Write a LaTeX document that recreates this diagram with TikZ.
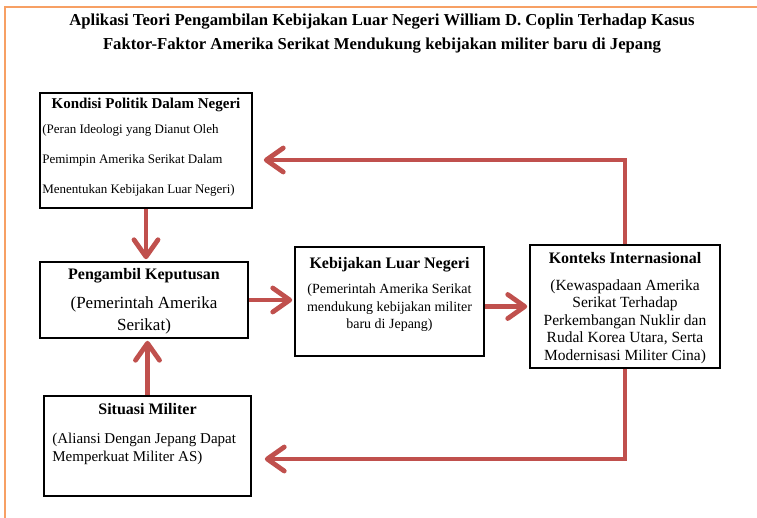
\documentclass[tikz,border=0pt]{standalone}
\usepackage{fontspec}
\setmainfont{Liberation Serif}
\usetikzlibrary{arrows.meta,positioning}
\definecolor{framecol}{RGB}{247,160,100}
\definecolor{arrowcol}{RGB}{192,80,77}

\begin{document}
\begin{tikzpicture}[x=1pt, y=-1pt,
    >={Straight Barb[length=17pt, width=24pt, round]},
    box/.style={rectangle, draw, line width=1.7pt, inner sep=0pt},
    head/.style={font=\fontsize{16}{19}\selectfont\bfseries, inner sep=0pt},
    body/.style={font=\fontsize{14}{17.5}\selectfont, align=center, inner sep=0pt},
    arrow/.style={->, arrowcol, line width=4.8pt},
]
\useasboundingbox (0,0) rectangle (757,517);

% page frame
\draw[framecol, line width=2pt] (5,530) -- (5,7) -- (770,7);

% title
\node[font=\fontsize{16.7}{24}\selectfont\bfseries, align=center] (title) at (382,34)
    {Aplikasi Teori Pengambilan Kebijakan Luar Negeri William D. Coplin Terhadap Kasus\\
     Faktor-Faktor Amerika Serikat Mendukung kebijakan militer baru di Jepang};

% boxes
\node[box, minimum width=212pt, minimum height=115pt] (kondisi) at (146,150.5) {};
\node[box, minimum width=208pt, minimum height=76pt] (pengambil) at (144,300) {};
\node[box, minimum width=207pt, minimum height=100pt] (situasi) at (147.5,446) {};
\node[box, minimum width=189pt, minimum height=109pt] (kebijakan) at (389.5,301.5) {};
\node[box, minimum width=190pt, minimum height=123pt] (konteks) at (625,306.5) {};

% texts
\node[head, font=\fontsize{15}{18}\selectfont\bfseries, below=5.5pt of kondisi.north] (kondisihead) {Kondisi Politik Dalam Negeri};
\node[body, font=\fontsize{13}{30}\selectfont, align=left, below right=32pt and 3pt of kondisi.north west] (kondisibody)
    {(Peran Ideologi yang Dianut Oleh\\Pemimpin Amerika Serikat Dalam\\Menentukan Kebijakan Luar Negeri)};

\node[head, below=7pt of pengambil.north] (pengambilhead) {Pengambil Keputusan};
\node[body, font=\fontsize{17}{22}\selectfont, below=35.5pt of pengambil.north] (pengambilbody)
    {(Pemerintah Amerika\\Serikat)};

\node[head, below=8pt of situasi.north] (situasihead) {Situasi Militer};
\node[body, font=\fontsize{15}{18}\selectfont, align=left, below right=38pt and 9pt of situasi.north west] (situasibody)
    {(Aliansi Dengan Jepang Dapat\\Memperkuat Militer AS)};

\node[head, below=11pt of kebijakan.north] (kebijakanhead) {Kebijakan Luar Negeri};
\node[body, below=37.5pt of kebijakan.north] (kebijakanbody)
    {(Pemerintah Amerika Serikat\\mendukung kebijakan militer\\baru di Jepang)};

\node[head, below=8pt of konteks.north] (konteksshead) {Konteks Internasional};
\node[body, font=\fontsize{15.5}{17.5}\selectfont, below=35pt of konteks.north] (konteksbody)
    {(Kewaspadaan Amerika\\Serikat Terhadap\\Perkembangan Nuklir dan\\Rudal Korea Utara, Serta\\Modernisasi Militer Cina)};

% connectors
\draw[arrow] (kondisi.south) -- ([yshift=2pt]kondisi.south |- pengambil.north);
\draw[arrow] (situasi.north) -- ([yshift=-2pt]situasi.north |- pengambil.south);
\draw[arrow] (pengambil.east) -- ([xshift=-2pt]pengambil.east -| kebijakan.west);
\draw[arrow] (kebijakan.east |- konteks.west) -- ([xshift=-2pt]konteks.west);
\draw[arrow] (konteks.north) |- ([xshift=11pt, yshift=-9.5pt]kondisi.east);
\draw[arrow] (konteks.south) |- ([xshift=13pt, yshift=-13pt]situasi.east);
\end{tikzpicture}
\end{document}
